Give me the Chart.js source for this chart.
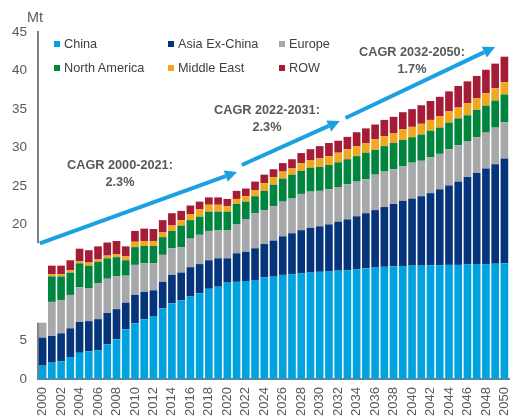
<!DOCTYPE html>
<html>
<head>
<meta charset="utf-8">
<script src="https://cdn.jsdelivr.net/npm/chart.js@4"></script>
<style>
body{margin:0;background:#fff;font-family:"Liberation Sans",Arial,sans-serif;}
#wrap{position:relative;width:528px;height:417px;}
#chart{position:absolute;left:0;top:0;}
.unit{position:absolute;left:27px;top:9px;font-size:14.4px;color:#595959;}
.leg{position:absolute;font-size:12.7px;color:#404040;white-space:nowrap;line-height:14px;}
.leg i{position:absolute;width:6px;height:6px;top:4px;}
.leg span{position:absolute;left:10px;top:0;}
.cagr{position:absolute;width:160px;text-align:center;font-weight:bold;font-size:12.7px;color:#595959;line-height:17px;}
</style>
</head>
<body>
<div id="wrap">
<canvas id="chart" width="528" height="417"></canvas>
<div class="unit">Mt</div>
<div id="legend"></div>
<div id="notes"></div>
</div>
<script>
const years=["2000","2001","2002","2003","2004","2005","2006","2007","2008","2009",
"2010","2011","2012","2013","2014","2015","2016","2017","2018","2019",
"2020","2021","2022","2023","2024","2025","2026","2027","2028","2029",
"2030","2031","2032","2033","2034","2035","2036","2037","2038","2039",
"2040","2041","2042","2043","2044","2045","2046","2047","2048","2049","2050"];

const china=[1.73,2.12,2.3,2.85,3.4,3.6,3.74,4.5,5.15,6.45,
7.22,7.74,8.17,9.17,9.82,10.2,10.7,11.1,11.7,11.97,
12.5,12.6,12.7,12.84,13.19,13.27,13.5,13.6,13.7,13.8,
13.9,14.0,14.05,14.1,14.2,14.35,14.45,14.55,14.6,14.65,
14.7,14.7,14.75,14.75,14.8,14.8,14.85,14.9,14.9,14.95,15.0];
const asiaExChina=[3.63,3.46,3.62,3.72,4.0,3.9,4.02,4.06,3.91,3.45,
3.68,3.56,3.33,3.43,3.68,3.6,3.8,3.8,3.7,3.68,
3.15,3.7,3.8,4.11,4.31,4.68,5.0,5.3,5.6,5.8,
5.9,6.05,6.35,6.6,6.9,7.15,7.45,7.75,8.1,8.45,
8.7,9.0,9.35,9.85,10.3,10.8,11.35,11.8,12.4,12.9,13.6];
const europe=[4.64,4.42,4.33,4.33,4.5,4.3,4.64,4.44,4.29,3.5,
3.9,3.7,3.5,3.5,3.45,3.3,3.7,3.8,3.8,3.65,
3.65,3.8,4.25,4.55,4.4,4.45,4.5,4.5,4.7,4.7,
4.6,4.55,4.5,4.55,4.5,4.4,4.6,4.6,4.5,4.5,
4.65,4.6,4.65,4.6,4.7,4.7,4.6,4.65,4.65,4.75,4.7];
const northAmerica=[3.6,3.3,3.05,2.9,3.1,2.9,2.8,2.65,2.45,2.0,
2.3,2.25,2.25,2.3,2.25,2.8,2.4,2.35,2.5,2.4,
2.4,2.6,2.25,2.2,2.5,2.8,3.0,3.1,3.0,3.1,
3.1,3.15,3.2,3.25,3.3,3.45,3.2,3.3,3.4,3.4,
3.3,3.4,3.45,3.4,3.45,3.5,3.4,3.55,3.5,3.5,3.6];
const middleEast=[0.3,0.3,0.3,0.3,0.3,0.4,0.3,0.35,0.4,0.5,
0.7,0.65,0.65,0.6,0.7,0.7,0.8,0.95,0.9,0.9,
0.7,0.65,0.7,0.8,1.0,1.0,0.9,0.8,1.0,1.0,
1.1,1.15,1.25,1.3,1.3,1.25,1.4,1.3,1.3,1.4,
1.35,1.4,1.4,1.5,1.45,1.4,1.55,1.5,1.6,1.6,1.6];
const row=[1.2,1.1,1.1,1.3,1.6,1.6,1.7,1.7,1.7,1.3,
1.4,1.6,1.55,1.6,1.6,1.2,1.1,1.0,0.95,0.95,
0.95,1.05,1.0,1.1,1.1,1.0,1.1,1.2,1.3,1.4,
1.6,1.7,1.55,1.6,1.8,1.9,1.9,2.1,2.1,2.2,
2.3,2.4,2.45,2.5,2.6,2.8,2.85,2.9,3.05,3.2,3.3];

const seriesNames=["China","Asia Ex-China","Europe","North America","Middle East","ROW"];
const yTicks=[0,5,10,15,20,25,30,35,40,45];
const cagrTitles=["CAGR 2000-2021:","CAGR 2022-2031:","CAGR 2032-2050:"];
const cagrRates=["2.3%","2.3%","1.7%"];

const colors=["#00a3e0","#06347a","#a7a8aa","#00853f","#efa81f","#a51c37"];
const seriesData=[china,asiaExChina,europe,northAmerica,middleEast,row];

// arrows in data space: [category index, value] -> [category index, value]
const arrowPath=[[-0.3,17.6,21.05,26.85],[21.57,27.75,32.17,33.46],[32.8,33.85,49.0,43.06]];
const notePos=[[120,157],[267,102],[412,44]];

// legend (html)
const legPos=[[54,37],[168,37],[279,37],[54,61],[168,61],[279,61]];
let lh="";
seriesNames.forEach((n,i)=>{
lh+='<div class="leg" style="left:'+legPos[i][0]+'px;top:'+legPos[i][1]+'px"><i style="background:'+colors[i]+'"></i><span>'+n+'</span></div>';
});
document.getElementById("legend").innerHTML=lh;

let nh="";
cagrTitles.forEach((t,i)=>{
nh+='<div class="cagr" style="left:'+(notePos[i][0]-80)+'px;top:'+notePos[i][1]+'px">'+t+'<br>'+cagrRates[i]+'</div>';
});
document.getElementById("notes").innerHTML=nh;

const overlay={
id:"overlay",
afterDraw(chart){
const c=chart.ctx,xs=chart.scales.x,ys=chart.scales.y;
// axis break box
c.save();
c.fillStyle="#fff";
const top=ys.getPixelForValue(17.6),bot=ys.getPixelForValue(7.3);
c.fillRect(0,top,xs.getPixelForValue(0.55),bot-top);
// CAGR arrows
c.strokeStyle="#1ba1e2";
c.fillStyle="#1ba1e2";
c.lineWidth=4;
arrowPath.forEach(a=>{
const x0=xs.getPixelForValue(a[0]),y0=ys.getPixelForValue(a[1]);
const x1=xs.getPixelForValue(a[2]),y1=ys.getPixelForValue(a[3]);
const ang=Math.atan2(y1-y0,x1-x0);
const hl=12,hw=6;
const bx=x1-hl*Math.cos(ang),by=y1-hl*Math.sin(ang);
c.beginPath();
c.moveTo(x0,y0);
c.lineTo(bx,by);
c.stroke();
c.beginPath();
c.moveTo(x1,y1);
c.lineTo(bx+hw*Math.sin(ang),by-hw*Math.cos(ang));
c.lineTo(bx-hw*Math.sin(ang),by+hw*Math.cos(ang));
c.closePath();
c.fill();
});
c.restore();
}
};

new Chart(document.getElementById("chart"),{
type:"bar",
data:{
labels:years,
datasets:seriesNames.map((n,i)=>({
label:n,
data:seriesData[i],
backgroundColor:colors[i],
barPercentage:0.83,
categoryPercentage:1
}))
},
options:{
responsive:false,
animation:false,
devicePixelRatio:1,
layout:{padding:{top:32,right:0,left:0,bottom:0}},
plugins:{legend:{display:false},tooltip:{enabled:false}},
scales:{
x:{
stacked:true,
grid:{display:false,drawTicks:false},
border:{display:true,color:"#7f7f7f",width:2},
ticks:{
autoSkip:false,maxRotation:90,minRotation:90,padding:8,color:"#595959",
font:{family:"Liberation Sans",size:13},
callback:function(v,i){return i%2===0?this.getLabelForValue(v):"";}
},
afterFit(s){s.height=38;}
},
y:{
stacked:true,min:0,max:45,
grid:{display:false,drawTicks:false},
border:{display:true,color:"#7f7f7f",width:2},
afterBuildTicks(s){s.ticks=yTicks.map(v=>({value:v}));},
ticks:{padding:11,color:"#595959",font:{family:"Liberation Sans",size:13.5}},
afterFit(s){s.width=38;}
}
}
},
plugins:[overlay]
});
</script>
</body>
</html>
